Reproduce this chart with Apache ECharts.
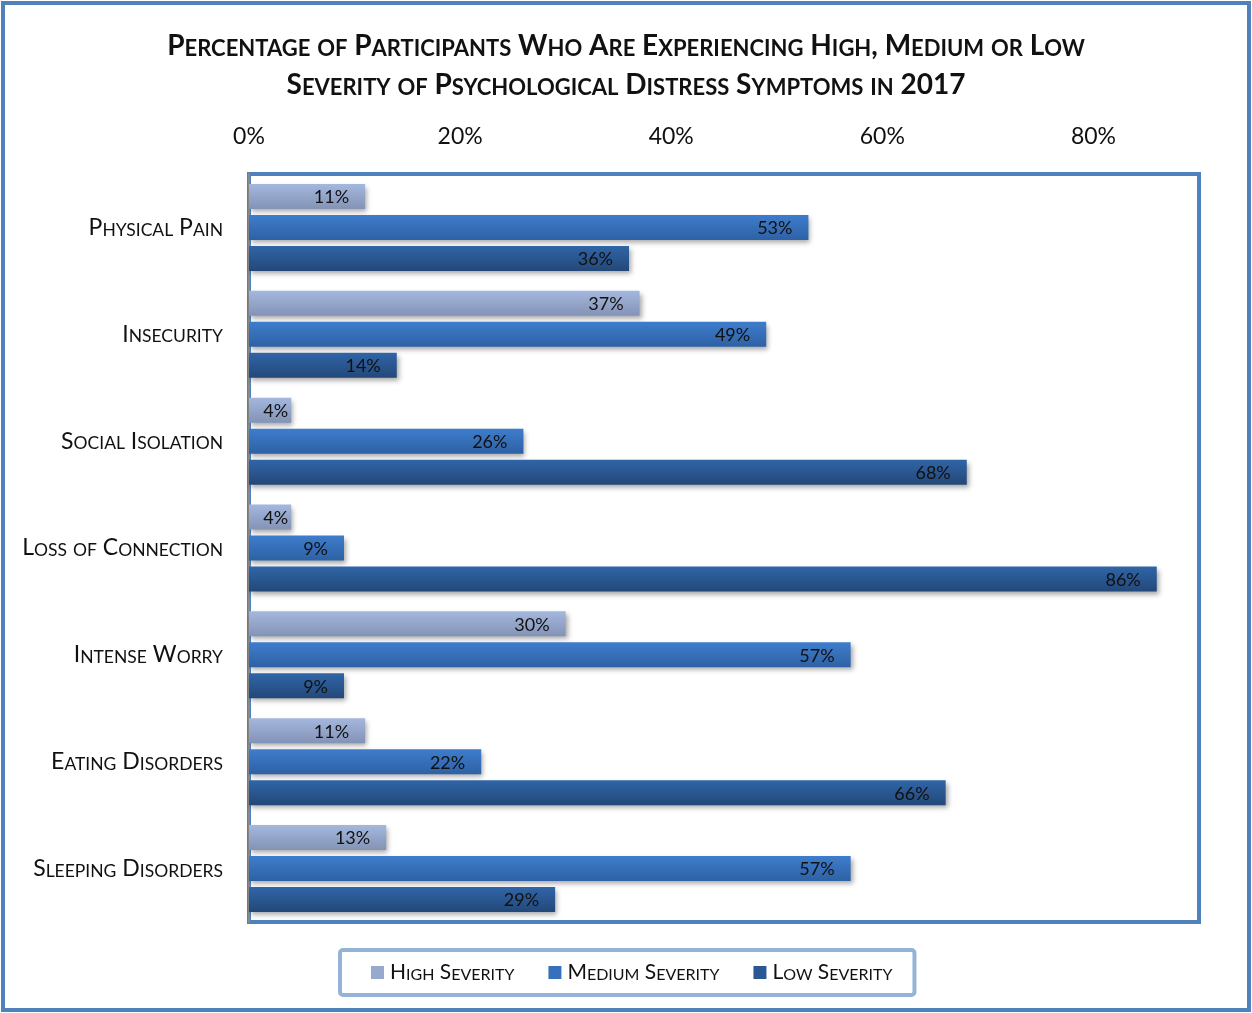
<!DOCTYPE html>
<html>
<head>
<meta charset="utf-8">
<title>Psychological Distress Symptoms 2017</title>
<script src="https://cdn.jsdelivr.net/npm/echarts@6/dist/echarts.min.js"></script>
<style>
  html, body { margin: 0; padding: 0; background: #fff; }
  #chart { width: 1252px; height: 1013px; }
</style>
</head>
<body>
<div id="chart"></div>
<script>
// Symptom categories, top to bottom
const categories = [
  'Physical Pain',
  'Insecurity',
  'Social Isolation',
  'Loss of Connection',
  'Intense Worry',
  'Eating Disorders',
  'Sleeping Disorders'
];
const seriesNames = ['High Severity', 'Medium Severity', 'Low Severity'];
// Percent of participants per severity level
const highSeverity   = [11, 37, 4, 4, 30, 11, 13];
const mediumSeverity = [53, 49, 26, 9, 57, 22, 57];
const lowSeverity    = [36, 14, 68, 86, 9, 66, 29];
const xTicks = [0, 20, 40, 60, 80];

const FONT = 'Lato, "Open Sans", sans-serif';

// Build small-caps text out of rich-text runs: capitals/digits large, lowercase letters as smaller capitals
function smallCaps(str, big, small) {
  let out = '';
  let run = '';
  let runType = null;
  const flush = () => {
    if (run) out += '{' + runType + '|' + run + '}';
    run = '';
  };
  for (const ch of str) {
    const isLower = ch !== ch.toUpperCase();
    const t = isLower ? small : big;
    if (t !== runType) { flush(); runType = t; }
    run += isLower ? ch.toUpperCase() : ch;
  }
  flush();
  return out;
}

function capsStyles(prefix, bigSize, smallSize, weight, color) {
  const o = {};
  o[prefix + 'B'] = { fontSize: bigSize, fontFamily: FONT, fontWeight: weight, color: color, verticalAlign: 'bottom', lineHeight: bigSize };
  o[prefix + 'S'] = { fontSize: smallSize, fontFamily: FONT, fontWeight: weight, color: color, verticalAlign: 'bottom', lineHeight: Math.round(smallSize * 1.09) };
  return o;
}

function grad(top, bottom) {
  return new echarts.graphic.LinearGradient(0, 0, 0, 1, [
    { offset: 0, color: top },
    { offset: 1, color: bottom }
  ]);
}

const colors = [
  grad('#a4b7dd', '#8393b6'),
  grad('#3e7dcc', '#2e61a4'),
  grad('#3065a8', '#234878')
];
const legendColors = ['#97a9cf', '#3871bb', '#2a5892'];

const titleLine1 = 'Percentage of Participants Who Are Experiencing High, Medium or Low';
const titleLine2 = 'Severity of Psychological Distress Symptoms in 2017';

const chart = echarts.init(document.getElementById('chart'), null, { renderer: 'canvas' });

const barStyle = (i) => ({
  color: colors[i],
  shadowColor: 'rgba(0,0,0,0.35)',
  shadowBlur: 5,
  shadowOffsetX: 2,
  shadowOffsetY: 3
});

const valueLabel = {
  show: true,
  position: 'insideRight',
  distance: 16,
  offset: [0, 1],
  formatter: '{c}%',
  color: '#111',
  fontSize: 18,
  fontFamily: FONT
};

const dataSets = [highSeverity, mediumSeverity, lowSeverity];

const titleRich = capsStyles('t', 28, 22, 'bold', '#111');

chart.setOption({
  animation: false,
  backgroundColor: '#ffffff',
  title: [
    { left: 'center', top: 27, text: smallCaps(titleLine1, 'tB', 'tS'), textStyle: { rich: titleRich } },
    { left: 'center', top: 66, text: smallCaps(titleLine2, 'tB', 'tS'), textStyle: { rich: titleRich } }
  ],
  graphic: [{
    type: 'rect',
    shape: { x: 3, y: 3, width: 1246, height: 1007 },
    style: { fill: null, stroke: '#4f81bd', lineWidth: 4 },
    silent: true
  }],
  legend: {
    left: 340,
    top: 950,
    orient: 'horizontal',
    data: seriesNames.map((n, i) => ({ name: n, itemStyle: { color: legendColors[i] } })),
    icon: 'rect',
    itemWidth: 13,
    itemHeight: 13,
    itemGap: 34,
    padding: [12, 22, 12, 31],
    backgroundColor: '#fff',
    borderColor: '#95b3d7',
    borderWidth: 4,
    borderRadius: 3,
    formatter: (name) => smallCaps(name, 'lB', 'lS'),
    textStyle: {
      padding: [0, 0, 0, 1],
      rich: capsStyles('l', 21, 16, 'normal', '#111')
    }
  },
  grid: {
    left: 249,
    right: 53,
    top: 174,
    bottom: 91,
    show: true,
    borderColor: '#4f81bd',
    borderWidth: 4,
    backgroundColor: '#fff'
  },
  xAxis: {
    type: 'value',
    position: 'top',
    min: xTicks[0],
    max: 90,
    interval: xTicks[1] - xTicks[0],
    axisLine: { show: false },
    axisTick: { show: false },
    splitLine: { show: false },
    axisLabel: {
      formatter: (v) => (xTicks.indexOf(v) >= 0 ? v + '%' : ''),
      margin: 26,
      fontSize: 23,
      fontFamily: FONT,
      color: '#111'
    }
  },
  yAxis: {
    type: 'category',
    inverse: true,
    data: categories,
    axisLine: { show: true, lineStyle: { color: '#8a8a8a', width: 2 } },
    axisTick: { show: false },
    axisLabel: {
      margin: 26,
      formatter: (v) => smallCaps(v, 'cB', 'cS'),
      rich: capsStyles('c', 23, 17.5, 'normal', '#111')
    }
  },
  series: dataSets.map((d, i) => ({
    name: seriesNames[i],
    type: 'bar',
    // very short bars keep their label tucked against the bar end
    data: d.map((v) => (v < 6 ? { value: v, label: { distance: 3 } } : v)),
    barWidth: 25,
    barGap: '24%',
    itemStyle: barStyle(i),
    label: valueLabel
  }))
});
</script>
</body>
</html>
